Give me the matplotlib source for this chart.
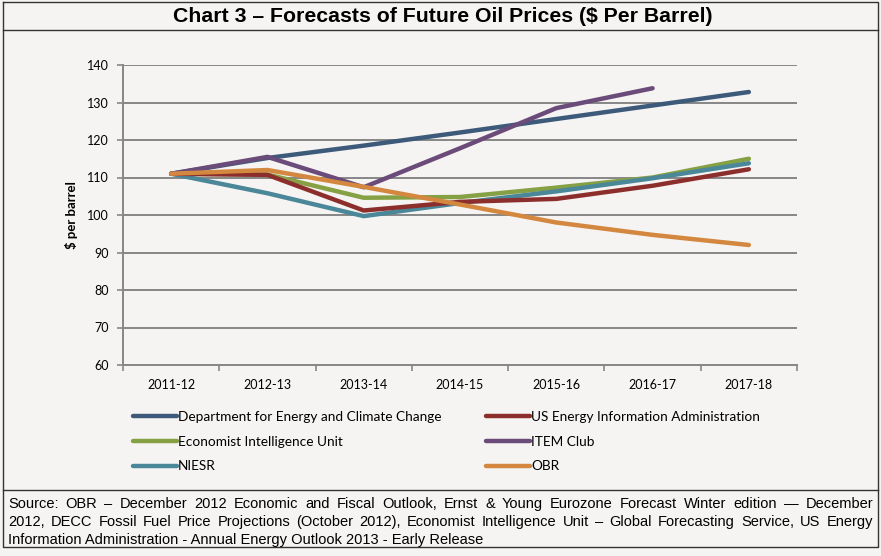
import matplotlib
matplotlib.use('Agg')
import matplotlib.pyplot as plt
from matplotlib.lines import Line2D
import numpy as np

W, H = 881, 556

years = ["2011-12", "2012-13", "2013-14", "2014-15", "2015-16", "2016-17", "2017-18"]
decc = [111.0, 115.2, 118.5, 122.0, 125.6, 129.2, 132.8]
us_eia = [111.0, 110.7, 101.2, 103.5, 104.3, 107.8, 112.2]
eiu = [111.0, 110.8, 104.6, 104.8, 107.3, 110.0, 115.0]
item_club = [111.0, 115.5, 107.4, 117.8, 128.5, 133.8]
niesr = [111.0, 105.8, 99.7, 103.2, 106.3, 109.8, 113.8]
obr = [111.0, 112.0, 107.5, 102.8, 98.0, 94.7, 92.0]

y_ticks = [60, 70, 80, 90, 100, 110, 120, 130, 140]

source_lines = [
    "Source: OBR \u2013 December 2012 Economic and Fiscal Outlook, Ernst & Young Eurozone Forecast Winter edition \u2014 December",
    "2012, DECC Fossil Fuel Price Projections (October 2012), Economist Intelligence Unit \u2013 Global Forecasting Service, US Energy",
    "Information Administration - Annual Energy Outlook 2013 - Early Release",
]

BG = '#f5f4f2'
GRID = '#878787'
NARROW = ['Liberation Sans Narrow', 'Liberation Sans', 'DejaVu Sans']
BODY = ['Lato', 'DejaVu Sans']


def fx(x):
    return x / W


def fy(y):
    return 1 - y / H


fig = plt.figure(figsize=(W / 100, H / 100), dpi=100, facecolor=BG)
ax = fig.add_axes([fx(123), fy(365), fx(797) - fx(123), (365 - 65) / H])
ax.set_facecolor(BG)

x = np.arange(len(years))
series = [
    ("Department for Energy and Climate Change", decc, '#3d5a7b'),
    ("Economist Intelligence Unit", eiu, '#86a044'),
    ("NIESR", niesr, '#4a8799'),
    ("US Energy Information Administration", us_eia, '#8c2f2c'),
    ("ITEM Club", item_club, '#6b4b79'),
    ("OBR", obr, '#d4873e'),
]
draw_order = [0, 3, 1, 4, 2, 5]
handles = {}
for i in draw_order:
    name, vals, col = series[i]
    ln, = ax.plot(x[:len(vals)], vals, color=col, linewidth=3.2,
                  solid_capstyle='round', solid_joinstyle='round', label=name, zorder=3 + i)
    handles[i] = ln

ax.set_xlim(-0.5, len(years) - 0.5)
ax.set_ylim(60, 140)
ax.set_yticks(y_ticks)
ax.set_yticklabels([str(v) for v in y_ticks], family=BODY, fontsize=9)
ax.set_xticks(np.arange(len(years) + 1) - 0.5)
ax.set_xticklabels([])
ax.set_xticks(x, minor=True)
ax.set_xticklabels(years, minor=True, family=BODY, fontsize=9)
ax.tick_params(axis='x', which='minor', length=0, pad=10)
ax.tick_params(axis='x', which='major', length=4, color=GRID, width=1.2)
ax.tick_params(axis='y', length=4, color=GRID, width=1.2, pad=6)
ax.yaxis.grid(True, color=GRID, linewidth=1.4)
ax.set_axisbelow(True)
for s in ['top', 'right']:
    ax.spines[s].set_visible(False)
for s in ['left', 'bottom']:
    ax.spines[s].set_color(GRID)
    ax.spines[s].set_linewidth(1.4)

fig.text(fx(72), fy(215), "$ per barrel", rotation=90, ha='center', va='center',
         family=BODY, fontsize=9.5, fontweight='bold')

leg = fig.legend([handles[i] for i in range(6)], [series[i][0] for i in range(6)],
                 ncol=2, loc='upper left', bbox_to_anchor=(fx(133), fy(411)),
                 frameon=False, borderpad=0, borderaxespad=0,
                 handlelength=3.2, handletextpad=0.1, columnspacing=3.3,
                 labelspacing=0.93, prop={'family': BODY, 'size': 9.8})
for lh in leg.get_lines():
    lh.set_linewidth(3.2)

# title
fig.text(fx(443), fy(17), "Chart 3 \u2013 Forecasts of Future Oil Prices ($ Per Barrel)",
         ha='center', va='center', family=NARROW, fontsize=15.3, fontweight='bold')

# frame lines
frame_kw = dict(color='#333333', linewidth=1.0, transform=fig.transFigure)
fig.add_artist(Line2D([fx(3), fx(878), fx(878), fx(3), fx(3)],
                      [fy(2), fy(2), fy(547), fy(547), fy(2)], **frame_kw))
fig.add_artist(Line2D([fx(3), fx(878)], [fy(30), fy(30)], **frame_kw))
fig.add_artist(Line2D([fx(3), fx(878)], [fy(490), fy(490)], **frame_kw))

# source note, justified like the original
renderer = fig.canvas.get_renderer()
left, right = 8, 873
line_y = [504, 522, 540]
for k, line in enumerate(source_lines):
    if k == len(source_lines) - 1:
        fig.text(fx(left), fy(line_y[k]), line, ha='left', va='center',
                 family=NARROW, fontsize=10.5)
        continue
    words = line.split(' ')
    arts = [fig.text(0, 0, w, ha='left', va='center', family=NARROW, fontsize=10.5)
            for w in words]
    widths = [a.get_window_extent(renderer).width for a in arts]
    gap = (right - left - sum(widths)) / (len(words) - 1)
    pos = left
    for a, w in zip(arts, widths):
        a.set_position((fx(pos), fy(line_y[k])))
        pos += w + gap

fig.savefig('out.png', dpi=100, facecolor=BG)
